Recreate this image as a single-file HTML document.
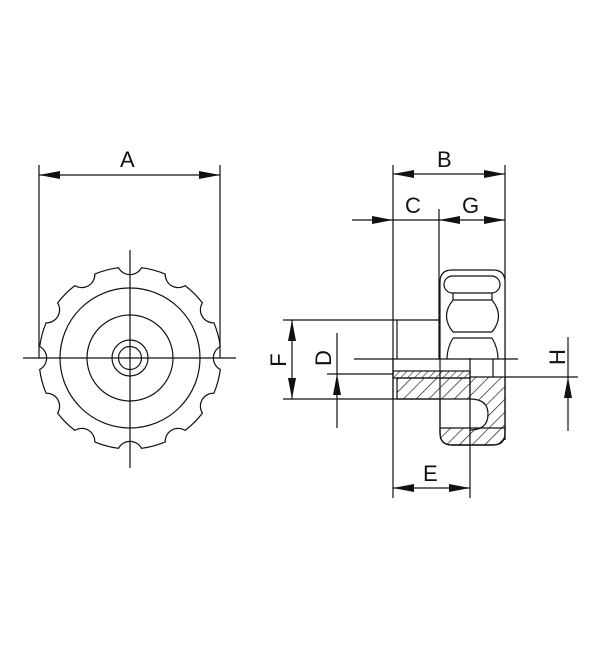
<!DOCTYPE html>
<html><head><style>body{margin:0;background:#fff}svg{display:block}text{font-family:"Liberation Sans",sans-serif;font-size:22px;fill:#111}</style></head>
<body>
<svg width="600" height="650" viewBox="0 0 600 650" xmlns="http://www.w3.org/2000/svg">
<defs>
<pattern id="h" patternUnits="userSpaceOnUse" width="9" height="9" patternTransform="rotate(45)"><line x1="0" y1="0" x2="0" y2="9" stroke="#111" stroke-width="1.3"/></pattern>
<pattern id="h2" patternUnits="userSpaceOnUse" width="5" height="5" patternTransform="rotate(45)"><line x1="0" y1="0" x2="0" y2="5" stroke="#111" stroke-width="1.1"/></pattern>
</defs>
<g stroke="#111" stroke-width="1.2" fill="none">
<line x1="39" y1="165" x2="39" y2="358"/>
<line x1="220" y1="165" x2="220" y2="358"/>
<line x1="130" y1="250" x2="130" y2="468"/>
<line x1="23" y1="358" x2="236" y2="358"/>
<circle cx="130" cy="358" r="70"/>
<circle cx="130" cy="358" r="43"/>
<circle cx="130" cy="358" r="18"/>
<circle cx="130" cy="358" r="11.5"/>
<path d="M141.5,267.7 A91,91 0 0 1 165.2,274.1 A13,13 0 0 0 185.1,285.6 A91,91 0 0 1 202.4,302.9 A13,13 0 0 0 213.9,322.8 A91,91 0 0 1 220.3,346.5 A13,13 0 0 0 220.3,369.5 A91,91 0 0 1 213.9,393.2 A13,13 0 0 0 202.4,413.1 A91,91 0 0 1 185.1,430.4 A13,13 0 0 0 165.2,441.9 A91,91 0 0 1 141.5,448.3 A13,13 0 0 0 118.5,448.3 A91,91 0 0 1 94.8,441.9 A13,13 0 0 0 74.9,430.4 A91,91 0 0 1 57.6,413.1 A13,13 0 0 0 46.1,393.2 A91,91 0 0 1 39.7,369.5 A13,13 0 0 0 39.7,346.5 A91,91 0 0 1 46.1,322.8 A13,13 0 0 0 57.6,302.9 A91,91 0 0 1 74.9,285.6 A13,13 0 0 0 94.8,274.1 A91,91 0 0 1 118.5,267.7 A13,13 0 0 0 141.5,267.7 Z"/>
</g>
<g stroke="#111" stroke-width="1.2">
<line x1="39" y1="175" x2="220" y2="175"/>
<line x1="393" y1="165" x2="393" y2="498"/>
<line x1="505" y1="165" x2="505" y2="440"/>
<line x1="393" y1="174" x2="505" y2="174"/>
<line x1="352" y1="220" x2="505" y2="220"/>
<line x1="439" y1="209" x2="439" y2="320"/>
<line x1="393" y1="488" x2="470" y2="488"/>
<line x1="283" y1="320" x2="439" y2="320"/>
<line x1="283" y1="399" x2="440" y2="399"/>
<line x1="292" y1="320" x2="292" y2="399"/>
<line x1="337" y1="333" x2="337" y2="428"/>
<line x1="327" y1="374" x2="393" y2="374"/>
<line x1="568" y1="337" x2="568" y2="431"/>
</g>
<g fill="#111">
<polygon points="39,175 60,171 60,179"/><polygon points="220,175 199,171 199,179"/>
<polygon points="393,174 414,170 414,178"/><polygon points="505,174 484,170 484,178"/>
<polygon points="393,220 372,216 372,224"/>
<polygon points="439,220 460,216 460,224"/><polygon points="505,220 484,216 484,224"/>
<polygon points="393,488 414,484 414,492"/><polygon points="470,488 449,484 449,492"/>
<polygon points="292,320 288,341 296,341"/><polygon points="292,399 288,378 296,378"/>
<polygon points="337,374 333,395 341,395"/>
<polygon points="568,377 564,398 572,398"/>
</g>
<text x="120" y="167">A</text>
<text x="437" y="167">B</text>
<text x="405" y="213">C</text>
<text x="462" y="213">G</text>
<text x="423" y="481">E</text>
<text transform="translate(286,360) rotate(-90)" text-anchor="middle">F</text>
<text transform="translate(331,358) rotate(-90)" text-anchor="middle">D</text>
<text transform="translate(565,357) rotate(-90)" text-anchor="middle">H</text>
<g stroke="#111" stroke-width="1.2">
<path d="M440,282 Q440,270 452,270 L493,270 Q505,270 505,282 L505,433 Q505,445 493,445 L452,445 Q440,445 440,433 Z" fill="#fff"/>
<rect x="444" y="276" width="56" height="17" rx="8.5" fill="none"/>
<path d="M453,293 L453,300 M492,293 L492,300" fill="none"/>
<line x1="453" y1="300" x2="492" y2="300"/>
<path d="M453,300 Q440,316 453,332 M492,300 Q505,316 492,332" fill="none"/>
<line x1="453" y1="332" x2="492" y2="332"/>
<line x1="453" y1="338" x2="492" y2="338"/>
<path d="M453,338 Q447,348 447,359 M492,338 Q498,348 498,359" fill="none"/>
<line x1="439" y1="320" x2="439" y2="359"/>
<line x1="397" y1="320" x2="397" y2="359"/>
<rect x="393" y="371" width="77" height="7" fill="url(#h2)"/>
<path d="M397,378 L470,378 L470,399 L397,399 Z" fill="url(#h)"/>
<path d="M470,377 L505,377 L505,428 L470,428 L470,430 Q488,430 488,414 Q488,399 470,399 Z" fill="url(#h)" stroke="none"/>
<path d="M470,399 Q488,399 488,414 Q488,430 470,430" fill="none"/>
<path d="M440,428 L505,428 L505,433 Q505,445 493,445 L452,445 Q440,445 440,433 Z" fill="url(#h)"/>
<path d="M440,399 L440,433 Q440,445 452,445 L493,445 Q505,445 505,433 L505,377" fill="none"/>
<line x1="493" y1="359" x2="493" y2="377"/>
<line x1="354" y1="359" x2="518" y2="359"/>
<line x1="470" y1="377" x2="578" y2="377"/>
<line x1="470" y1="358" x2="470" y2="498"/>
<line x1="393" y1="359" x2="393" y2="399"/>
</g>
</svg>
</body></html>
